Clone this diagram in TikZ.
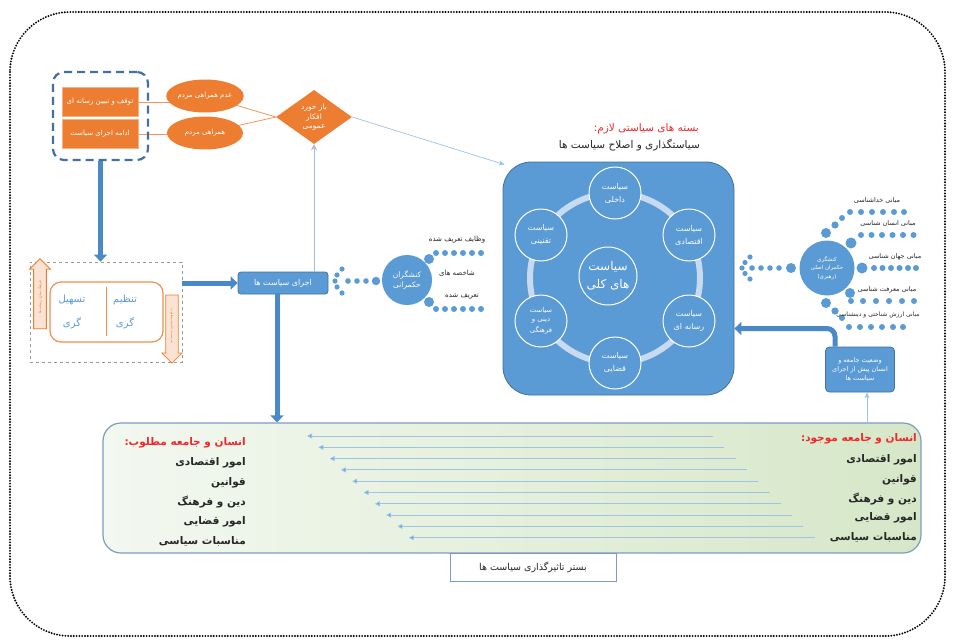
\documentclass[tikz,border=0pt]{standalone}
\usepackage{fontspec}
\usetikzlibrary{shapes.geometric,shapes.arrows,arrows.meta,backgrounds}
\TeXXeTstate=1
\newfontfamily\arabicfont[Script=Arabic]{DejaVu Sans}
\newcommand{\myfa}[1]{{\arabicfont\beginR #1\endR}}
\newcommand{\fsz}[1]{\fontsize{#1}{#1}\selectfont}
\definecolor{bl}{HTML}{5B9BD5}
\definecolor{bld}{HTML}{41719C}
\definecolor{thk}{HTML}{4A89C8}
\definecolor{orc}{HTML}{ED7D31}
\definecolor{orp}{HTML}{FBE3D3}
\definecolor{ringc}{HTML}{C7DAEF}
\definecolor{lbl}{HTML}{9DC3E6}
\definecolor{vln}{HTML}{A9BCD6}
\definecolor{redt}{HTML}{F0282D}
\definecolor{txt}{HTML}{262626}
\definecolor{gl}{HTML}{F3F8F0}
\definecolor{gr}{HTML}{D6E7C8}
\definecolor{pnlc}{HTML}{7D9CC5}
\tikzset{
  orbox/.style={rectangle, fill=orc, draw=orc!60, minimum width=76pt, minimum height=29pt, inner sep=1pt, text=white, font=\fsz{7}},
  orell/.style={ellipse, fill=orc, minimum width=76pt, minimum height=33pt, inner sep=0pt, text=white, font=\fsz{7}},
  orline/.style={draw=orc!80, line width=0.8pt},
  thickarrow/.style={draw=thk, line width=5pt, -{Triangle[length=7pt,width=13pt]}},
  thinarrow/.style={draw=lbl, line width=0.8pt, -{Stealth[length=6pt,width=5pt]}},
  smallc/.style={circle, draw=white, fill=bl, line width=1pt, minimum size=52pt, inner sep=0pt, text=white, align=center, font=\fsz{8}},
  lbltxt/.style={text=txt, font=\fsz{6.5}, inner sep=0pt},
  pnltxt/.style={text=txt, font=\fsz{10.5}\bfseries, anchor=east, inner sep=0pt},
  pnlred/.style={text=redt, font=\fsz{10.5}\bfseries, anchor=east, inner sep=0pt},
  oarrow/.style={single arrow, draw=orc, fill=orp, line width=0.8pt, inner sep=4pt, single arrow head extend=4pt, font=\fsz{3.5}, text=orc},
}
\begin{document}
\begin{tikzpicture}[x=1pt,y=-1pt]
\useasboundingbox (0,0) rectangle (953,643);
\begin{pgfonlayer}{background}
\fill[white] (0,0) rectangle (953,643);
\end{pgfonlayer}
% outer dotted frame
\draw[line width=2.1pt, dash pattern=on 0pt off 2.8pt, line cap=round, rounded corners=60pt] (10,12) rectangle (945,636);

% ---------- top left ----------
\node[draw=bld, line width=2.2pt, dash pattern=on 8pt off 5pt, rounded corners=11pt, minimum width=95pt, minimum height=88pt] (dbox) at (100.5,116) {};
\node[orbox] (r1) at (100,102) {\myfa{توقف و تبیین رسانه ای}};
\node[orbox] (r2) at (100,134) {\myfa{ادامه اجرای سیاست}};
\node[orell] (e1) at (205,96) {\myfa{عدم همراهی مردم}};
\node[orell] (e2) at (205,133) {\myfa{همراهی مردم}};
\node[diamond, fill=orc, minimum width=76pt, minimum height=54pt, inner sep=0pt] (dmd) at (314,117) {};
\node[text=white, align=center, font=\fsz{7.5}, inner sep=0pt] (dmdt) at (314,117) {\myfa{باز خورد}\\[1.5pt]\myfa{افکار}\\[1.5pt]\myfa{عمومی}};
\begin{pgfonlayer}{background}
\draw[orline] (r1.east) -- (r1.east -| e1.center);
\draw[orline] (r2.east) -- (r2.east -| e2.center);
\draw[orline] (e1.center) -- (dmd.west);
\draw[orline] (e2.center) -- (dmd.west);
\end{pgfonlayer}

% ---------- left gray box ----------
\node[draw=gray!80, dashed, line width=0.8pt, minimum width=152pt, minimum height=100pt] (gbox) at (106,312) {};
\node[draw=orc!85, line width=1.2pt, rounded corners=11pt, minimum width=113pt, minimum height=60pt] (ib) at (106.5,312) {};
\draw[orc!85, line width=1.2pt] ([yshift=-6pt]ib.north) -- ([yshift=7pt]ib.south);
\node[text=bl, font=\fsz{10}, inner sep=0pt] (t1) at (72,300) {\myfa{تسهیل}};
\node[text=bl, font=\fsz{10}, inner sep=0pt] (t2) at (72,323) {\myfa{گری}};
\node[text=bl, font=\fsz{10}, inner sep=0pt] (t3) at (125,300) {\myfa{تنظیم}};
\node[text=bl, font=\fsz{10}, inner sep=0pt] (t4) at (125,323) {\myfa{گری}};
\node[oarrow, rotate=90, minimum height=70pt] (ua) at (40,297) {\myfa{فرهنگ سازی رسانه ها}};
\node[oarrow, rotate=-90, minimum height=68pt] (da) at (172,326) {\myfa{به سمت جامعه مطلوب}};

% ---------- ejra box ----------
\node[fill=bl, draw=bld, line width=0.8pt, rounded corners=3pt, minimum width=90pt, minimum height=22pt, text=white, font=\fsz{8}, inner sep=0pt] (ejra) at (283,283) {\myfa{اجرای سیاست ها}};

% connectors left
\draw[thickarrow] (dbox.south) -- (dbox.south |- gbox.north);
\draw[thickarrow] (gbox.east |- ejra.west) -- (ejra.west);
\draw[draw=vln, line width=1pt, -{Stealth[length=6pt,width=6pt]}] (ejra.north -| dmd.south) -- (dmd.south);

% ---------- governance actors ----------
\node[circle, fill=bl, minimum size=50pt, inner sep=0pt, text=white, align=center, font=\fsz{7.5}] (hk) at (407,280) {\myfa{کنشگران}\\[2pt]\myfa{حکمرانی}};
\fill[bl] (429,259) circle (5pt);
\fill[bl] (429,302) circle (5pt);
\foreach \x in {436,445,454,463,472,481} {\fill[bl] (\x,253) circle (3pt); \fill[bl] (\x,309) circle (3pt);}
\foreach \p in {(342,269),(337,275),(335,281),(337,287),(342,293)} \fill[bl] \p circle (2.6pt);
\foreach \x in {348,357,366} \fill[bl] (\x,281) circle (2.8pt);
\fill[bl] (376,281) circle (4.2pt);
\node[lbltxt, font=\fsz{7}] (w1) at (457,240) {\myfa{وظایف تعریف شده}};
\node[lbltxt, font=\fsz{7}] (w2) at (457,273) {\myfa{شاخصه های}};
\node[lbltxt, font=\fsz{7}] (w3) at (462,296) {\myfa{تعریف شده}};

% ---------- main box ----------
\node[fill=bl, draw=bld, line width=0.8pt, rounded corners=28pt, minimum width=231pt, minimum height=233pt] (mbox) at (618.5,278.5) {};
\node[text=redt, font=\fsz{10.5}, anchor=east, inner sep=0pt] (tt1) at (699,129) {\myfa{بسته های سیاستی لازم:}};
\node[text=txt, font=\fsz{10.5}, anchor=east, inner sep=0pt] (tt2) at (700,145) {\myfa{سیاستگذاری و اصلاح سیاست ها}};
\coordinate (cc) at (615,278);
\draw[ringc, line width=6pt] (cc) circle (85pt);
\node[smallc] (c1) at (615,193) {\myfa{سیاست}\\[5pt]\myfa{داخلی}};
\node[smallc] (c2) at (689,235) {\myfa{سیاست}\\[5pt]\myfa{اقتصادی}};
\node[smallc] (c3) at (689,321) {\myfa{سیاست}\\[5pt]\myfa{رسانه ای}};
\node[smallc] (c4) at (615,363) {\myfa{سیاست}\\[5pt]\myfa{قضایی}};
\node[smallc, font=\fsz{6.8}] (c5) at (541,321) {\myfa{سیاست}\\[2pt]\myfa{دینی و}\\[2pt]\myfa{فرهنگی}};
\node[smallc] (c6) at (541,235) {\myfa{سیاست}\\[5pt]\myfa{تقنینی}};
\node[smallc, minimum size=58pt, font=\fsz{12}] (cen) at (608,276) {\myfa{سیاست}\\[6pt]\myfa{های کلی}};

\draw[draw=lbl, line width=0.7pt, -{Stealth[length=6pt,width=5pt]}] (dmd.east) -- ([shift={(2pt,-3pt)}]mbox.north west);

% ---------- leader actor ----------
\node[circle, fill=bl, minimum size=55pt, inner sep=0pt, text=white, align=center, font=\fsz{5.5}] (rk) at (827,268) {\myfa{کنشگری}\\[2pt]\myfa{حکمران اصلی}\\[2pt]\myfa{(رهبری)}};
\foreach \p in {(750,257),(745,262.5),(742,268),(745,273.5),(750,279)} \fill[bl] \p circle (2.6pt);
\foreach \x in {752,761,770,779} \fill[bl] (\x,268) circle (2.8pt);
\fill[bl] (791,268) circle (5pt);
% branch 1
\fill[bl] (826,233) circle (5pt); \fill[bl] (835,225) circle (3.6pt); \fill[bl] (842,218) circle (3pt);
\foreach \x in {850,861,872,883,894,904} \fill[bl] (\x,212) circle (3pt);
\node[lbltxt] (m1) at (877,201) {\myfa{مبانی خداشناسی}};
% branch 2
\fill[bl] (851,243) circle (5.5pt);
\foreach \x in {861,871.5,882,892.5,903,913.5} \fill[bl] (\x,235) circle (3pt);
\node[lbltxt] (m2) at (888,224) {\myfa{مبانی انسان شناسی}};
% branch 3
\fill[bl] (862,268) circle (5.5pt);
\foreach \x in {874,882.5,891,899.5,908,916} \fill[bl] (\x,268) circle (3pt);
\node[lbltxt] (m3) at (895,257) {\myfa{مبانی جهان شناسی}};
% branch 4
\fill[bl] (850,293) circle (5pt);
\foreach \x in {851,863,876,889,902,914} \fill[bl] (\x,301) circle (3pt);
\node[lbltxt] (m4) at (887,290) {\myfa{مبانی معرفت شناسی}};
% branch 5
\fill[bl] (826,303) circle (5pt); \fill[bl] (835,311) circle (3.6pt); \fill[bl] (842,318) circle (3pt);
\foreach \x in {849,860,871,882,893,903} \fill[bl] (\x,327) circle (3pt);
\node[lbltxt, font=\fsz{6}] (m5) at (878,315) {\myfa{مبانی ارزش شناختی و دینشناسی}};

% ---------- state box ----------
\node[fill=bl, draw=bld, line width=0.8pt, rounded corners=4pt, minimum width=69pt, minimum height=45pt, text=white, align=center, font=\fsz{6.5}, inner sep=0pt] (vz) at (860,369.5) {\myfa{وضعیت جامعه و}\\[1.5pt]\myfa{انسان پیش از اجرای}\\[1.5pt]\myfa{سیاست ها}};
\draw[thickarrow, rounded corners=8pt] ([xshift=-25pt]vz.north) |- ([yshift=-50pt]mbox.east);

% ---------- bottom panel ----------
\node[left color=gl, right color=gr, draw=pnlc, line width=1.2pt, rounded corners=18pt, minimum width=818pt, minimum height=130pt] (pnl) at (512,488) {};
\draw[thickarrow] ([xshift=-6pt]ejra.south) -- ([xshift=-6pt]ejra.south |- pnl.north);
\draw[thinarrow] ([xshift=7pt]vz.south |- pnl.north) -- ([xshift=7pt]vz.south);
\foreach \i in {0,...,9} {
  \coordinate (s\i) at ({713+11.3*\i},{436+11.3*\i});
  \coordinate (t\i) at ({307+11.3*\i},{436+11.3*\i});
  \draw[draw=lbl, line width=0.9pt, -{Triangle[length=5pt,width=5pt,fill=bl]}] (s\i) -- (t\i);
}
\node[pnlred] (l0) at (246,443) {\myfa{انسان و جامعه مطلوب:}};
\node[pnltxt] (l1) at (246,463) {\myfa{امور اقتصادی}};
\node[pnltxt] (l2) at (246,483) {\myfa{قوانین}};
\node[pnltxt] (l3) at (246,502) {\myfa{دین و فرهنگ}};
\node[pnltxt] (l4) at (246,522) {\myfa{امور قضایی}};
\node[pnltxt] (l5) at (246,541) {\myfa{مناسبات سیاسی}};
\node[pnlred] (r0) at (917,439) {\myfa{انسان و جامعه موجود:}};
\node[pnltxt] (q1) at (917,460) {\myfa{امور اقتصادی}};
\node[pnltxt] (q2) at (917,480) {\myfa{قوانین}};
\node[pnltxt] (q3) at (917,499) {\myfa{دین و فرهنگ}};
\node[pnltxt] (q4) at (917,518) {\myfa{امور قضایی}};
\node[pnltxt] (q5) at (917,537) {\myfa{مناسبات سیاسی}};
\node[fill=white, draw=pnlc, line width=0.8pt, minimum width=166pt, minimum height=28pt, text=txt, font=\fsz{9.5}, inner sep=0pt] (bst) at (533,567) {\myfa{بستر تاثیرگذاری سیاست ها}};
\end{tikzpicture}
\end{document}
